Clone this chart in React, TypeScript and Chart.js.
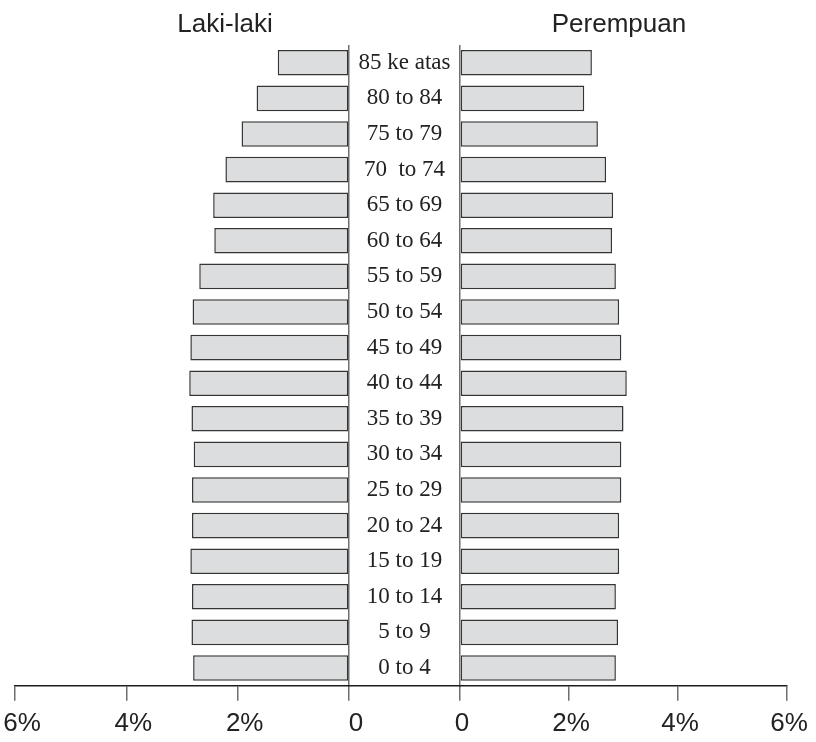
import React, { useEffect, useRef } from 'react';
import { Chart, registerables } from 'chart.js';

Chart.register(...registerables);

// Age groups, bottom (youngest) to top (oldest)
const ageGroups = [
  '0 to 4', '5 to 9', '10 to 14', '15 to 19', '20 to 24', '25 to 29',
  '30 to 34', '35 to 39', '40 to 44', '45 to 49', '50 to 54', '55 to 59',
  '60 to 64', '65 to 69', '70  to 74', '75 to 79', '80 to 84', '85 ke atas',
];

// Percent of population, Laki-laki (male)
const maleValues = [
  2.80, 2.83, 2.82, 2.85, 2.82, 2.82,
  2.79, 2.83, 2.87, 2.85, 2.81, 2.69,
  2.42, 2.44, 2.22, 1.93, 1.66, 1.28,
];

// Percent of population, Perempuan (female)
const femaleValues = [
  2.86, 2.90, 2.86, 2.92, 2.92, 2.96,
  2.96, 3.00, 3.06, 2.96, 2.92, 2.86,
  2.79, 2.81, 2.68, 2.53, 2.28, 2.42,
];

const axisTicks = [0, 2, 4, 6];
const leftTitle = 'Laki-laki';
const rightTitle = 'Perempuan';

const SANS = '"Liberation Sans", Arial, Helvetica, sans-serif';
const SERIF = '"Liberation Serif", "Times New Roman", serif';
const TEXT = '#222222';

const tickLabel = (v: number | string) => (Number(v) === 0 ? '0' : `${v}%`);

const middleLabels = {
  id: 'middleLabels',
  afterDatasetsDraw(chart: any) {
    const { ctx, scales } = chart;
    const y = scales.y;
    const m = scales.xM;
    const cx = (m.left + m.right) / 2;
    ctx.save();
    ctx.font = `23px ${SERIF}`;
    ctx.fillStyle = TEXT;
    ctx.textAlign = 'center';
    ctx.textBaseline = 'middle';
    ageGroups.forEach((lab, i) => {
      ctx.fillText(lab, cx, y.getPixelForValue(i));
    });
    ctx.restore();
  },
};

const sideAxis = (reverse: boolean, weight: number, labelOffset: number) => ({
  type: 'linear' as const,
  position: 'bottom' as const,
  stack: 'bottomStack',
  stackWeight: weight,
  reverse,
  min: 0,
  max: 6,
  afterBuildTicks: (scale: any) => {
    scale.ticks = axisTicks.map((v) => ({ value: v }));
  },
  grid: {
    display: true,
    drawOnChartArea: true,
    color: (ctx: any) => (ctx.tick && ctx.tick.value === 0 ? '#6f6f6f' : 'rgba(0,0,0,0)'),
    lineWidth: 1.5,
    tickColor: '#6f6f6f',
    tickWidth: 1.5,
    tickLength: 15,
  },
  border: { display: true, color: '#1e1e1e', width: 1.5 },
  ticks: {
    font: { family: SANS, size: 26 },
    color: TEXT,
    padding: 7,
    labelOffset,
    maxRotation: 0,
    autoSkip: false,
    callback: tickLabel,
  },
});

export default function App() {
  const canvasRef = useRef<HTMLCanvasElement | null>(null);

  useEffect(() => {
    if (!canvasRef.current) return;
    const chart = new Chart(canvasRef.current, {
      type: 'bar',
      data: {
        labels: ageGroups,
        datasets: [
          {
            label: leftTitle,
            data: maleValues,
            xAxisID: 'xL',
            yAxisID: 'y',
            backgroundColor: '#dcddde',
            borderColor: '#353535',
            borderWidth: 1.5,
            borderSkipped: false,
            grouped: false,
            barPercentage: 0.72,
            categoryPercentage: 1,
          } as any,
          {
            label: rightTitle,
            data: femaleValues,
            xAxisID: 'xR',
            yAxisID: 'y',
            backgroundColor: '#dcddde',
            borderColor: '#353535',
            borderWidth: 1.5,
            borderSkipped: false,
            grouped: false,
            barPercentage: 0.72,
            categoryPercentage: 1,
          } as any,
        ],
      },
      options: {
        indexAxis: 'y',
        animation: false,
        responsive: false,
        maintainAspectRatio: false,
        layout: { padding: { left: 15, right: 29, top: 45, bottom: -4 } },
        plugins: {
          legend: { display: false },
          tooltip: { enabled: false },
          title: { display: false },
        },
        scales: {
          y: {
            type: 'category',
            reverse: true,
            offset: true,
            display: false,
          },
          xL: sideAxis(true, 334, 7),
          xM: {
            type: 'linear',
            position: 'bottom',
            stack: 'bottomStack',
            stackWeight: 111,
            min: 0,
            max: 1,
            grid: { display: true, color: 'rgba(0,0,0,0)', drawTicks: false, drawOnChartArea: false },
            border: { display: true, color: '#1e1e1e', width: 1.5 },
            ticks: { display: false },
          },
          xR: sideAxis(false, 327, 2),
        } as any,
      },
      plugins: [middleLabels],
    });
    return () => chart.destroy();
  }, []);

  const titleStyle = (center: number): React.CSSProperties => ({
    position: 'absolute',
    top: 10,
    left: center - 100,
    width: 200,
    textAlign: 'center',
    font: `26px ${SANS}`,
    lineHeight: '26px',
    color: TEXT,
    whiteSpace: 'nowrap',
  });

  return (
    <div style={{ position: 'absolute', left: 0, top: 0, width: 816, height: 742, background: '#ffffff' }}>
      <canvas ref={canvasRef} width={816} height={742} style={{ display: 'block' }} />
      <div style={titleStyle(225)}>{leftTitle}</div>
      <div style={titleStyle(619)}>{rightTitle}</div>
    </div>
  );
}
